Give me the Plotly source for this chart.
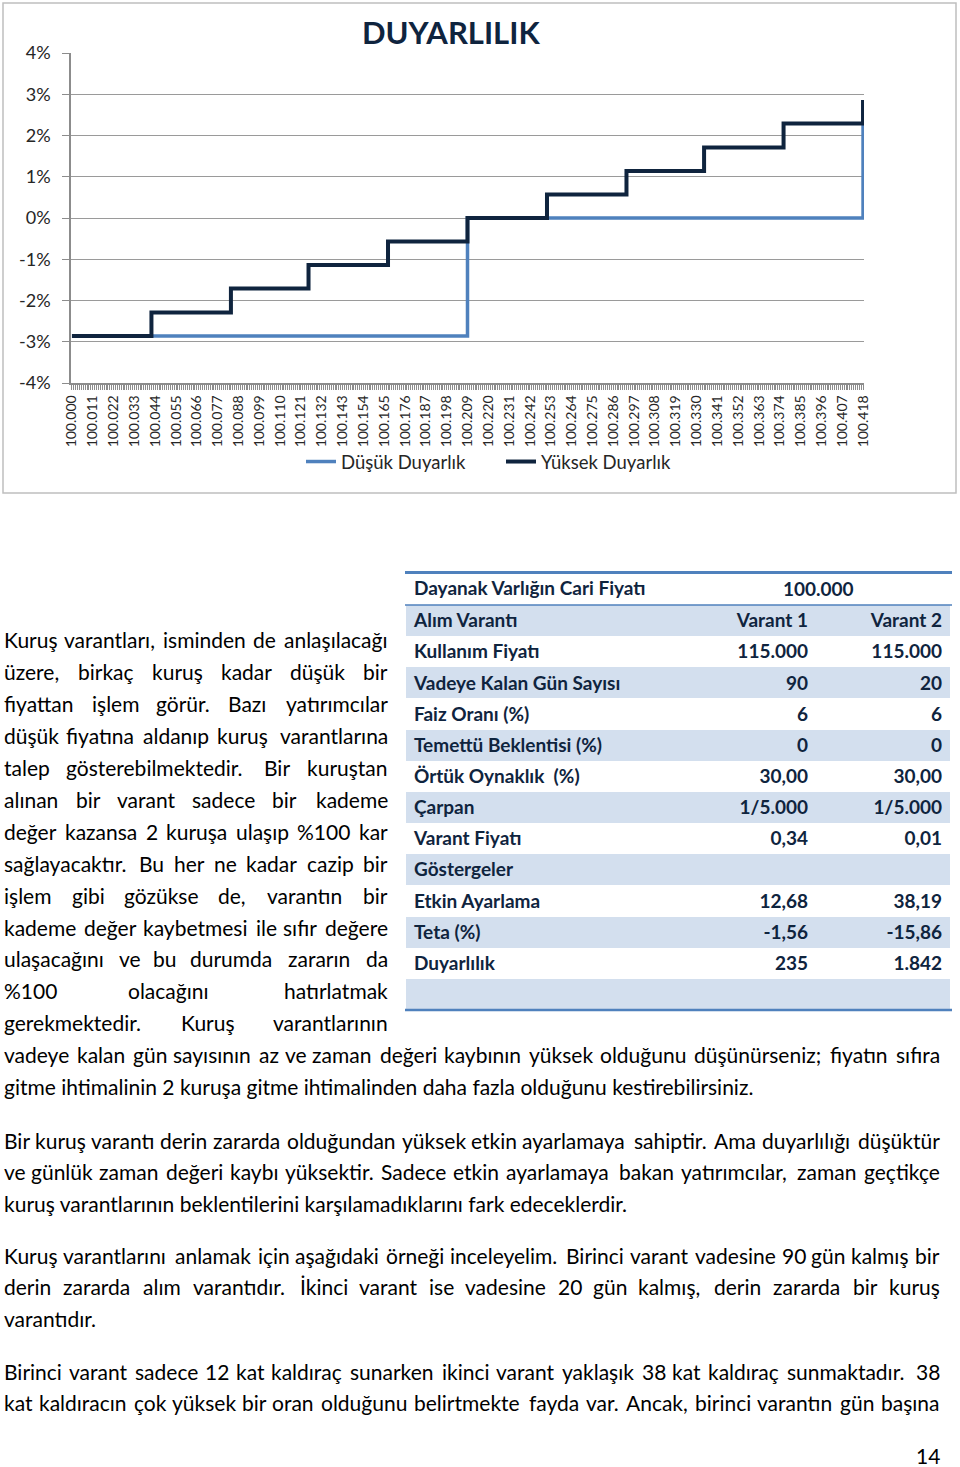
import plotly.graph_objects as go

W, H = 960, 1467

# ---------------- chart data ----------------
x_labels = ["100.000", "100.011", "100.022", "100.033", "100.044", "100.055", "100.066",
            "100.077", "100.088", "100.099", "100.110", "100.121", "100.132", "100.143",
            "100.154", "100.165", "100.176", "100.187", "100.198", "100.209", "100.220",
            "100.231", "100.242", "100.253", "100.264", "100.275", "100.286", "100.297",
            "100.308", "100.319", "100.330", "100.341", "100.352", "100.363", "100.374",
            "100.385", "100.396", "100.407", "100.418"]
y_vals = [-4, -3, -2, -1, 0, 1, 2, 3, 4]
y_labels = ["-4%", "-3%", "-2%", "-1%", "0%", "1%", "2%", "3%", "4%"]

# step breakpoints (underlying price, % change)
dusuk_x = [100.000, 100.209, 100.418]
dusuk_y = [-2.86, 0.00, 2.86]
yuksek_x = [100.000, 100.042, 100.084, 100.125, 100.167, 100.209,
            100.251, 100.293, 100.334, 100.376, 100.418]
yuksek_y = [-2.86, -2.29, -1.71, -1.14, -0.57, 0.00,
            0.57, 1.14, 1.71, 2.29, 2.86]

# ---------------- table data ----------------
table_header = ["Dayanak Varlığın Cari Fiyatı", "", ""]
cari_fiyat = "100.000"
table_labels = ["Alım Varantı", "Kullanım Fiyatı", "Vadeye Kalan Gün Sayısı", "Faiz Oranı (%)",
                "Temettü Beklentisi (%)", "Örtük Oynaklık  (%)", "Çarpan", "Varant Fiyatı",
                "Göstergeler", "Etkin Ayarlama", "Teta (%)", "Duyarlılık", ""]
varant1 = ["Varant 1", "115.000", "90", "6", "0", "30,00", "1/5.000", "0,34", "",
           "12,68", "-1,56", "235", ""]
varant2 = ["Varant 2", "115.000", "20", "6", "0", "30,00", "1/5.000", "0,01", "",
           "38,19", "-15,86", "1.842", ""]

# ---------------- body text ----------------
col_lines = [
    "Kuruş varantları, isminden de anlaşılacağı",
    "üzere, birkaç kuruş kadar düşük bir",
    "fiyattan işlem görür. Bazı yatırımcılar",
    "düşük fiyatına aldanıp kuruş varantlarına",
    "talep gösterebilmektedir. Bir kuruştan",
    "alınan bir varant sadece bir kademe",
    "değer kazansa 2 kuruşa ulaşıp %100 kar",
    "sağlayacaktır. Bu her ne kadar cazip bir",
    "işlem gibi gözükse de, varantın bir",
    "kademe değer kaybetmesi ile sıfır değere",
    "ulaşacağını ve bu durumda zararın da",
    "%100 olacağını hatırlatmak",
    "gerekmektedir. Kuruş varantlarının",
]
full_paragraphs = [
    ["vadeye kalan gün sayısının az ve zaman değeri kaybının yüksek olduğunu düşünürseniz; fiyatın sıfıra",
     "gitme ihtimalinin 2 kuruşa gitme ihtimalinden daha fazla olduğunu kestirebilirsiniz."],
    ["Bir kuruş varantı derin zararda olduğundan yüksek etkin ayarlamaya sahiptir. Ama duyarlılığı düşüktür",
     "ve günlük zaman değeri kaybı yüksektir. Sadece etkin ayarlamaya bakan yatırımcılar, zaman geçtikçe",
     "kuruş varantlarının beklentilerini karşılamadıklarını fark edeceklerdir."],
    ["Kuruş varantlarını anlamak için aşağıdaki örneği inceleyelim. Birinci varant vadesine 90 gün kalmış bir",
     "derin zararda alım varantıdır. İkinci varant ise vadesine 20 gün kalmış, derin zararda bir kuruş",
     "varantıdır."],
    ["Birinci varant sadece 12 kat kaldıraç sunarken ikinci varant yaklaşık 38 kat kaldıraç sunmaktadır. 38",
     "kat kaldıracın çok yüksek bir oran olduğunu belirtmekte fayda var. Ancak, birinci varantın gün başına"],
]
last_line_justified = [False, False, False, True]
page_number = "14"

NAVY = "#0F243E"
LIGHT = "#4F81BD"
GRID = "#9a9a9a"
FONT = "Lato"
BODY_SIZE = 21
WF = 1.09

# approximate relative glyph widths (em) used to space justified words
CW = {'a': .479, 'b': .525, 'c': .423, 'd': .525, 'e': .498, 'f': .305, 'g': .471, 'h': .525,
      'i': .229, 'j': .239, 'k': .470, 'l': .229, 'm': .799, 'n': .525, 'o': .527, 'p': .525,
      'q': .525, 'r': .349, 's': .391, 't': .335, 'u': .525, 'v': .452, 'w': .715, 'x': .433,
      'y': .470, 'z': .395, 'ç': .423, 'ğ': .471, 'ı': .229, 'ş': .391, 'ö': .527, 'ü': .525,
      'A': .620, 'B': .600, 'K': .600, 'S': .500, 'İ': .270, 'I': .270, '.': .252, ',': .250,
      ';': .268, '%': .715, ' ': .226}
for d in "0123456789":
    CW[d] = .545


def X(p):
    return p / W


def Y(p):
    return 1 - p / H


def est_width(s):
    return sum(CW.get(ch, 0.5) for ch in s) * BODY_SIZE * WF


annotations = []


def add_text(txt, x, y, anchor="left", size=BODY_SIZE, color="#000000", bold=False):
    annotations.append(dict(
        text=f"<b>{txt}</b>" if bold else txt, xref="paper", yref="paper",
        x=X(x), y=Y(y), xanchor=anchor, yanchor="middle", showarrow=False,
        borderpad=0, borderwidth=0, font=dict(family=FONT, size=size, color=color)))


def add_line(line, y, x0, x1, justify):
    words = line.split(" ")
    if not justify or len(words) < 2:
        add_text(line, x0, y)
        return
    widths = [est_width(w) for w in words]
    gap = (x1 - x0 - sum(widths)) / (len(words) - 1)
    x = x0
    for i, w in enumerate(words):
        if i == len(words) - 1:
            add_text(w, x1, y, anchor="right")
        else:
            add_text(w, x, y)
        x += widths[i] + gap


LINE_H = 31.9
y = 640
for ln in col_lines:
    add_line(ln, y, 4, 388, True)
    y += LINE_H
para_starts = [y, 1140, 1255, 1371]
for p, para in enumerate(full_paragraphs):
    yy = para_starts[p]
    for i, ln in enumerate(para):
        last = i == len(para) - 1
        add_line(ln, yy, 4, 940, (not last) or last_line_justified[p])
        yy += LINE_H

add_text(page_number, 940, 1455, anchor="right")

# chart title
add_text("DUYARLILIK", 451, 32, anchor="center", size=31, color=NAVY, bold=True)
# merged cell value
add_text(cari_fiyat, 818, 588, anchor="center", size=19, color=NAVY, bold=True)

fig = go.Figure()
fig.add_trace(go.Scatter(x=dusuk_x, y=dusuk_y, mode="lines", name="Düşük Duyarlık",
                         line=dict(shape="hv", color=LIGHT, width=3.5)))
fig.add_trace(go.Scatter(x=yuksek_x, y=yuksek_y, mode="lines", name="Yüksek Duyarlık",
                         line=dict(shape="hv", color=NAVY, width=4)))

row_fills = ["#D3DFEE" if i % 2 == 0 else "#FFFFFF" for i in range(len(table_labels))]
tfont = dict(family=FONT, size=19, color=NAVY, weight="bold")
fig.add_trace(go.Table(
    domain=dict(x=[X(406), X(950)], y=[Y(1010), Y(573)]),
    columnwidth=[284, 126, 134],
    header=dict(values=table_header, align=["left", "right", "right"], fill_color="#FFFFFF",
                line=dict(color="rgba(0,0,0,0)", width=0), font=tfont, height=32),
    cells=dict(values=[table_labels, varant1, varant2], align=["left", "right", "right"],
               fill_color=[row_fills, row_fills, row_fills],
               line=dict(color="rgba(0,0,0,0)", width=0), font=tfont, height=31.15),
))

shapes = [
    dict(type="rect", xref="paper", yref="paper", x0=X(3), x1=X(956), y0=Y(493), y1=Y(3),
         line=dict(color="#bfbfbf", width=1.5)),
    dict(type="line", xref="paper", yref="paper", x0=X(405), x1=X(952), y0=Y(572.5), y1=Y(572.5),
         line=dict(color=LIGHT, width=3), layer="above"),
    dict(type="line", xref="paper", yref="paper", x0=X(405), x1=X(952), y0=Y(605), y1=Y(605),
         line=dict(color=LIGHT, width=1.5), layer="above"),
    dict(type="line", xref="paper", yref="paper", x0=X(405), x1=X(952), y0=Y(1010), y1=Y(1010),
         line=dict(color=LIGHT, width=2.5), layer="above"),
]

fig.update_layout(
    width=W, height=H, autosize=False,
    margin=dict(l=0, r=0, t=0, b=0, pad=0, autoexpand=False),
    paper_bgcolor="white", plot_bgcolor="white",
    font=dict(family=FONT, color="#262626"),
    showlegend=True,
    legend=dict(orientation="h", x=X(301), y=Y(462), xanchor="left", yanchor="middle",
                font=dict(size=18.5, color="#262626"), entrywidth=155, entrywidthmode="pixels",
                bgcolor="rgba(0,0,0,0)"),
    xaxis=dict(domain=[X(71), X(864)], range=[99.9995, 100.4185], automargin=False,
               tickvals=[float(s) for s in x_labels], ticktext=x_labels, tickangle=-90,
               tickfont=dict(size=14, color="#262626"), showgrid=False, zeroline=False,
               showline=True, linecolor="#8c8c8c", linewidth=1.5,
               ticks="outside", ticklen=5, tickcolor="#8c8c8c",
               minor=dict(dtick=0.001, tick0=100.0, ticks="outside", ticklen=5,
                          tickcolor="#8c8c8c", tickwidth=1, showgrid=False),
               anchor="y", fixedrange=True),
    yaxis=dict(domain=[Y(383), Y(53)], range=[-4, 4], tickvals=y_vals, ticktext=y_labels,
               automargin=False,
               tickfont=dict(size=18, color="#262626"), showgrid=True, gridcolor=GRID,
               gridwidth=1.2, zeroline=False, showline=True, linecolor="#8c8c8c", linewidth=1.5,
               ticks="outside", ticklen=7, tickcolor="#8c8c8c", ticklabelstandoff=8,
               anchor="x", fixedrange=True),
    annotations=annotations,
    shapes=shapes,
)

fig.write_html("out.html", config={"displayModeBar": False},
               post_script="document.body.style.margin='0px';")
